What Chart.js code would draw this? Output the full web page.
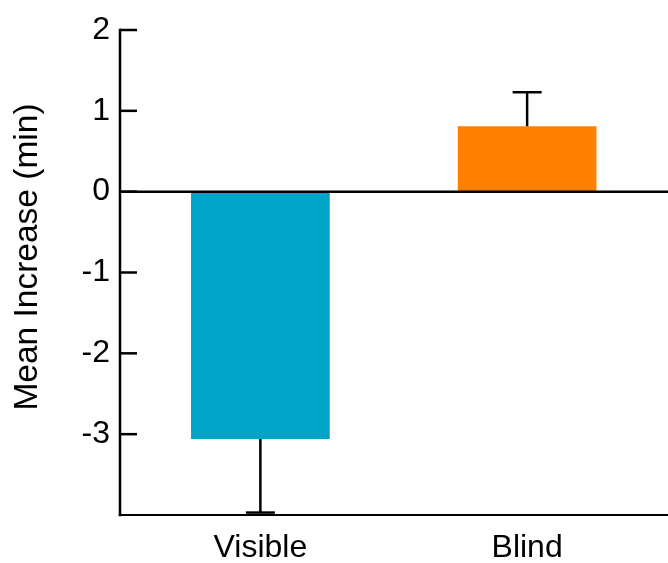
<!DOCTYPE html>
<html>
<head>
<meta charset="utf-8">
<script src="https://cdn.jsdelivr.net/npm/chart.js@4/dist/chart.umd.min.js"></script>
<style>
  html, body { margin: 0; padding: 0; background: #ffffff; }
  #wrap { width: 668px; height: 563px; position: relative; }
</style>
</head>
<body>
<div id="wrap"><canvas id="c"></canvas></div>
<script>
const categories = ["Visible", "Blind"];
const meanIncrease = [-3.06, 0.81];
const errorValues = [0.91, 0.42];
const barColors = ["#00A3C8", "#FF8000"];
const yTickValues = [2, 1, 0, -1, -2, -3];
const yMin = -4;
const yMax = 2;
const yTitle = "Mean Increase (min)";

const FONT = "'Liberation Sans', Arial, Helvetica, sans-serif";

const axesPlugin = {
  id: 'customAxes',
  afterDatasetsDraw(chart) {
    const ctx = chart.ctx;
    const y = chart.scales.y;
    const x = chart.scales.x;
    const area = chart.chartArea;
    const axisX = area.left - 7;
    const W = chart.width;
    ctx.save();
    ctx.strokeStyle = '#000';
    ctx.lineCap = 'butt';

    // error bars
    ctx.lineWidth = 2.5;
    meanIncrease.forEach((m, i) => {
      const cx = x.getPixelForValue(i);
      const end = m < 0 ? m - errorValues[i] : m + errorValues[i];
      const y0 = y.getPixelForValue(m);
      const y1 = y.getPixelForValue(end);
      ctx.beginPath();
      ctx.moveTo(cx, y0);
      ctx.lineTo(cx, y1);
      ctx.stroke();
      ctx.beginPath();
      ctx.moveTo(cx - 14.5, y1);
      ctx.lineTo(cx + 14.5, y1);
      ctx.stroke();
    });

    // zero line
    ctx.lineWidth = 2.5;
    const y0 = y.getPixelForValue(0);
    ctx.beginPath();
    ctx.moveTo(axisX, y0);
    ctx.lineTo(W, y0);
    ctx.stroke();

    // y axis line
    const yTop = y.getPixelForValue(yMax);
    const yBot = y.getPixelForValue(yMin);
    ctx.lineWidth = 2.5;
    ctx.beginPath();
    ctx.moveTo(axisX, yTop - 1.25);
    ctx.lineTo(axisX, yBot + 1.25);
    ctx.stroke();

    // tick marks (inside)
    yTickValues.forEach(v => {
      const py = y.getPixelForValue(v);
      ctx.beginPath();
      ctx.moveTo(axisX, py);
      ctx.lineTo(axisX + 17, py);
      ctx.stroke();
    });

    // bottom axis line
    ctx.lineWidth = 2.2;
    ctx.beginPath();
    ctx.moveTo(axisX - 1.25, yBot);
    ctx.lineTo(W, yBot);
    ctx.stroke();

    // y axis title
    ctx.fillStyle = '#000';
    ctx.font = "33.5px " + FONT;
    ctx.textAlign = 'center';
    ctx.textBaseline = 'alphabetic';
    ctx.translate(36.5, 257);
    ctx.rotate(-Math.PI / 2);
    ctx.fillText(yTitle, 0, 0);
    ctx.restore();
  }
};

new Chart(document.getElementById('c'), {
  type: 'bar',
  data: {
    labels: categories,
    datasets: [{
      data: meanIncrease,
      backgroundColor: barColors,
      borderWidth: 0,
      barPercentage: 0.52,
      categoryPercentage: 1.0
    }]
  },
  options: {
    responsive: true,
    maintainAspectRatio: false,
    animation: false,
    events: [],
    layout: { padding: { top: 30, right: 7.5, bottom: 0, left: 0 } },
    plugins: {
      legend: { display: false },
      tooltip: { enabled: false }
    },
    scales: {
      x: {
        grid: { display: false, drawTicks: false },
        border: { display: false },
        ticks: {
          color: '#000',
          font: { family: FONT, size: 32 },
          padding: 14,
          maxRotation: 0
        },
        afterFit(s) { s.height = 48; s.paddingLeft = 0; s.paddingRight = 0; }
      },
      y: {
        min: yMin,
        max: yMax,
        grid: { display: false, drawTicks: false },
        border: { display: false },
        afterBuildTicks(s) {
          s.ticks = yTickValues.map(v => ({ value: v }));
        },
        ticks: {
          color: '#000',
          font: { family: FONT, size: 32 },
          padding: 17,
          callback: v => String(v)
        },
        title: { display: false },
        afterFit(s) { s.width = 127; s.paddingTop = 0; s.paddingBottom = 0; }
      }
    }
  },
  plugins: [axesPlugin]
});
</script>
</body>
</html>
